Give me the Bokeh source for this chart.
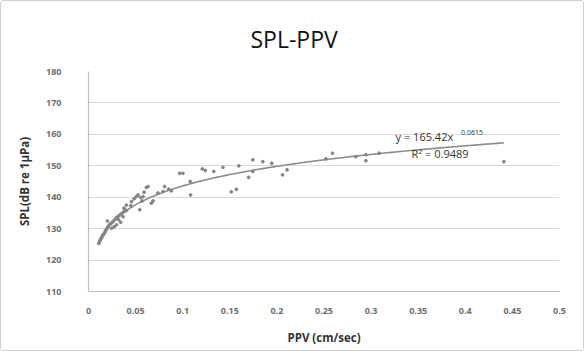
import numpy as np
from bokeh.plotting import figure
from bokeh.models import Label, Range1d, FixedTicker
from bokeh.embed import file_html
from bokeh.resources import INLINE

ppv = [0.0109, 0.0117, 0.0124, 0.0131, 0.0138, 0.0145, 0.0152, 0.0159, 0.0173, 0.0180,
       0.0191, 0.0201, 0.0208, 0.0222, 0.0236, 0.0251, 0.0265, 0.0279, 0.0297, 0.0314,
       0.0335, 0.0356, 0.0377, 0.0403, 0.0201, 0.0244, 0.0272, 0.0297, 0.0342, 0.0320,
       0.0367, 0.0377, 0.0403, 0.0456, 0.0449, 0.0484, 0.0508, 0.0526, 0.0554, 0.0569,
       0.0590, 0.0614, 0.0632, 0.0579, 0.0667, 0.0685, 0.0738, 0.0791, 0.0808, 0.0851,
       0.0544, 0.0968, 0.1003, 0.1208, 0.1240, 0.1330, 0.1427, 0.1596, 0.1744, 0.1850,
       0.1945, 0.1700, 0.1744, 0.1515, 0.1570, 0.1084, 0.0880, 0.1080, 0.2060, 0.2108,
       0.2590, 0.2520, 0.2840, 0.2945, 0.2945, 0.3086, 0.4410]
spl = [125.3, 125.9, 126.3, 126.7, 127.1, 127.5, 127.9, 128.2, 128.7, 129.3,
       129.8, 130.3, 130.6, 131.2, 131.6, 132.0, 132.4, 132.9, 133.5, 133.9,
       134.4, 134.9, 135.4, 135.8, 132.4, 130.1, 130.6, 131.2, 132.0, 132.8,
       133.8, 136.5, 137.5, 138.6, 137.3, 139.5, 140.2, 140.7, 139.9, 138.8,
       141.6, 143.1, 143.4, 140.2, 138.1, 138.8, 141.3, 141.8, 143.4, 142.6,
       136.0, 147.6, 147.6, 149.0, 148.5, 148.2, 149.5, 150.0, 151.9, 151.3,
       150.8, 146.3, 148.2, 141.7, 142.5, 140.7, 142.0, 145.0, 147.1, 148.7,
       154.0, 152.2, 152.9, 153.5, 151.6, 154.0, 151.3]

# Power trendline shown on the chart: y = 165.42 x^0.0615
fit_a = 165.42
fit_b = 0.0615
fit_x_start = 0.0105
fit_x_end = 0.441

x_ticks = [0, 0.05, 0.1, 0.15, 0.2, 0.25, 0.3, 0.35, 0.4, 0.45, 0.5]
y_ticks = [110, 120, 130, 140, 150, 160, 170, 180]

FONT = "Open Sans"

p = figure(width=584, height=351, output_backend="svg", toolbar_location=None,
           x_range=Range1d(0, 0.5), y_range=Range1d(110, 180),
           min_border_left=87, min_border_right=26, min_border_top=70, min_border_bottom=61)

p.styles = {"border": "1px solid #d0d0d0", "border-radius": "3px", "box-sizing": "border-box"}

p.title.text = "SPL-PPV"
p.title.align = "left"
p.title.offset = 162
p.title.vertical_align = "middle"
p.title.text_font = FONT
p.title.text_font_size = "23px"
p.title.text_font_style = "normal"
p.title.text_color = "#111111"
p.title.standoff = 31

p.outline_line_color = None
p.background_fill_color = "white"
p.border_fill_color = "white"

p.xgrid.grid_line_color = None
p.ygrid.grid_line_color = "#d9d9d9"
p.ygrid.grid_line_width = 1.2

p.xaxis.ticker = FixedTicker(ticks=x_ticks)
p.yaxis.ticker = FixedTicker(ticks=y_ticks)
p.xaxis.major_label_overrides = {t: ("0" if t == 0 else ("%g" % t)) for t in x_ticks}

for ax in (p.xaxis[0], p.yaxis[0]):
    ax.axis_line_color = "#bfbfbf"
    ax.axis_line_width = 1.2
    ax.major_tick_line_color = None
    ax.minor_tick_line_color = None
    ax.major_tick_out = 0
    ax.major_tick_in = 0
    ax.major_label_text_font = FONT
    ax.major_label_text_font_size = "9px"
    ax.major_label_text_font_style = "bold"
    ax.major_label_text_color = "#6e6e6e"
    ax.axis_label_text_font = FONT
    ax.axis_label_text_font_size = "11.5px"
    ax.axis_label_text_font_style = "bold"
    ax.axis_label_text_color = "#333333"

p.xaxis.axis_label = "PPV (cm/sec)"
p.yaxis.axis_label = "SPL(dB re 1\u03bcPa)"
p.xaxis.major_label_standoff = 16
p.xaxis.axis_label_standoff = 13
p.yaxis.major_label_standoff = 27
p.yaxis.axis_label_standoff = 11

# trendline
fx = np.linspace(fit_x_start, fit_x_end, 300)
fy = fit_a * fx ** fit_b
p.line(fx, fy, line_color="#8c8c8c", line_width=1.6)

# data points
p.scatter(ppv, spl, size=2.8, marker="circle", fill_color="#858585", line_color="#858585")

# equation labels
p.add_layout(Label(x=0.326, y=159.3, text="y = %.2fx" % fit_a, text_font=FONT,
                   text_font_size="11px", text_color="#333333", text_baseline="middle"))
p.add_layout(Label(x=0.3955, y=160.6, text="%.4f" % fit_b, text_font=FONT,
                   text_font_size="7px", text_color="#333333", text_baseline="middle"))
p.add_layout(Label(x=0.343, y=153.9, text="R\u00b2 = 0.9489", text_font=FONT,
                   text_font_size="11px", text_color="#333333", text_baseline="middle"))

open("out.html", "w").write(file_html(p, INLINE))
